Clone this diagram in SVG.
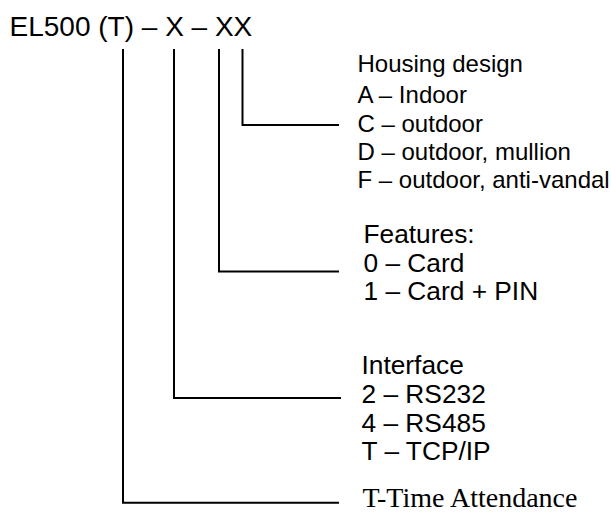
<svg xmlns="http://www.w3.org/2000/svg" width="611" height="513" viewBox="0 0 611 513">
<style>
.t{font-family:"Liberation Sans",Arial,sans-serif;fill:#000}
.s{font-family:"Liberation Serif","Times New Roman",serif;fill:#000}
.c{fill:none;stroke:#000;stroke-width:2}
</style>
<rect width="611" height="513" fill="#fff"/>
<g id="title"><text class="t" x="9.5" y="36" font-size="28">EL500 (T) – X – XX</text></g>
<g id="connectors">
<polyline class="c" points="123,49 123,502.7 339,502.7"/>
<polyline class="c" points="174,49 174,398 341,398"/>
<polyline class="c" points="219,49 219,271.5 339,271.5"/>
<polyline class="c" points="242.5,49 242.5,125 339,125"/>
</g>
<g id="housing" font-size="24">
<text class="t" x="357.5" y="72">Housing design</text>
<text class="t" x="357.5" y="102.5">A – Indoor</text>
<text class="t" x="357.5" y="131.5">C – outdoor</text>
<text class="t" x="357.5" y="160">D – outdoor, mullion</text>
<text class="t" x="357.5" y="188">F – outdoor, anti-vandal</text>
</g>
<g id="features" font-size="26.3">
<text class="t" x="363.5" y="243">Features:</text>
<text class="t" x="363.5" y="271.5">0 – Card</text>
<text class="t" x="363.5" y="300">1 – Card + PIN</text>
</g>
<g id="interface" font-size="26.3">
<text class="t" x="361.5" y="373.5">Interface</text>
<text class="t" x="361.5" y="402.5">2 – RS232</text>
<text class="t" x="361.5" y="431.5">4 – RS485</text>
<text class="t" x="361.5" y="460">T – TCP/IP</text>
</g>
<g id="time"><text class="s" x="362.5" y="506.5" font-size="28">T-Time Attendance</text></g>
</svg>
